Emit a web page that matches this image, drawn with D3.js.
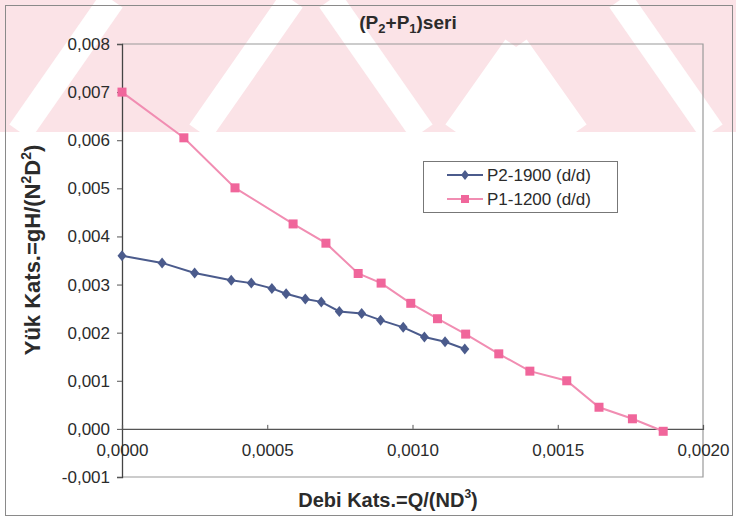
<!DOCTYPE html>
<html>
<head>
<meta charset="utf-8">
<script src="https://cdn.jsdelivr.net/npm/d3@7"></script>
<style>
  html, body { margin: 0; padding: 0; background: #fff; }
  svg { display: block; font-family: "Liberation Sans", Arial, sans-serif; }
</style>
</head>
<body>
<svg id="chart" width="736" height="520"></svg>
<script>
// Flow coefficient Q/(ND^3) and head coefficient gH/(N^2 D^2)
const p2Flow = [0, 0.000138, 0.000250, 0.000376, 0.000445, 0.000516, 0.000565, 0.000631,
                0.000686, 0.000748, 0.000825, 0.000890, 0.000968, 0.001041, 0.001112, 0.001180];
const p2Head = [0.00360, 0.00345, 0.00324, 0.00309, 0.00303, 0.00292, 0.00281, 0.00270,
                0.00264, 0.00244, 0.00240, 0.00226, 0.00211, 0.00191, 0.00181, 0.00166];

const p1Flow = [0, 0.000213, 0.000389, 0.000589, 0.000702, 0.000813, 0.000892, 0.000994,
                0.001086, 0.001183, 0.001297, 0.001404, 0.001531, 0.001642, 0.001757, 0.001863];
const p1Head = [0.00700, 0.00605, 0.00501, 0.00426, 0.00386, 0.00323, 0.00303, 0.00261,
                0.00229, 0.00197, 0.00156, 0.00120, 0.00100, 0.00045, 0.00021, -0.00005];

const seriesNames = ["P2-1900 (d/d)", "P1-1200 (d/d)"];
const xTicks = [0, 0.0005, 0.0010, 0.0015, 0.0020];
const yTicks = [-0.001, 0, 0.001, 0.002, 0.003, 0.004, 0.005, 0.006, 0.007, 0.008];

const svg = d3.select("#chart");
const W = 736, H = 520;

// faint diagonal band pattern along the top of the page
const band = svg.append("g");
band.append("rect").attr("x", 0).attr("y", 0).attr("width", W).attr("height", 132)
  .attr("fill", "#fbe3e7");
const cp = svg.append("clipPath").attr("id", "bandclip");
cp.append("rect").attr("x", 0).attr("y", 0).attr("width", W).attr("height", 132);
const stripes = [
  [20, 132, 112, 0], [200, 132, 292, 0], [330, 0, 422, 132],
  [456, 132, 516, 47], [516, 47, 576, 132], [620, 0, 712, 132]
];
band.append("g").attr("clip-path", "url(#bandclip)")
  .selectAll("line").data(stripes).join("line")
  .attr("x1", d => d[0]).attr("y1", d => d[1]).attr("x2", d => d[2]).attr("y2", d => d[3])
  .attr("stroke", "#fff").attr("stroke-width", 26);
band.append("path").attr("d", "M456,132 L516,47 L576,132 Z").attr("fill", "#fff");

// outer frame
svg.append("rect").attr("x", 5.5).attr("y", 5.5).attr("width", 727).attr("height", 510)
  .attr("fill", "none").attr("stroke", "#8a8a8a").attr("stroke-width", 1);

const x = d3.scaleLinear().domain([0, 0.002]).range([122, 703]);
const y = d3.scaleLinear().domain([-0.001, 0.008]).range([477, 44]);
const fmt = (d, n) => d.toFixed(n).replace(".", ",");

// plot area frame (top, right, bottom)
svg.append("path")
  .attr("d", `M${x(0)},${y(0.008)}H${x(0.002)}V${y(-0.001)}H${x(0)}`)
  .attr("fill", "none").attr("stroke", "#9a9a9a").attr("stroke-width", 1.2);

// y axis
const yAxis = svg.append("g").attr("transform", `translate(${x(0)},0)`)
  .call(d3.axisLeft(y).tickValues(yTicks).tickSize(5).tickPadding(7).tickFormat(d => fmt(d, 3)));
yAxis.select(".domain").attr("stroke", "#444").attr("stroke-width", 1.3);
yAxis.selectAll(".tick line").attr("stroke", "#555");
yAxis.selectAll("text").attr("font-size", 17).attr("fill", "#2b2b2b")
  .attr("font-family", "Liberation Sans, Arial, sans-serif");

// x axis crossing at zero
const xAxis = svg.append("g").attr("transform", `translate(0,${y(0)})`)
  .call(d3.axisBottom(x).tickValues(xTicks).tickSize(-4).tickPadding(12).tickFormat(d => fmt(d, 4)));
xAxis.select(".domain").attr("stroke", "#555").attr("stroke-width", 1.2);
xAxis.selectAll(".tick line").attr("stroke", "#555");
xAxis.selectAll("text").attr("font-size", 17).attr("fill", "#2b2b2b")
  .attr("font-family", "Liberation Sans, Arial, sans-serif")
  .attr("dy", "0.9em");

// series
const blue = "#4b5b8c", pinkLine = "#f18db2", pinkMark = "#f0669b";
const p2 = p2Flow.map((v, i) => [v, p2Head[i]]);
const p1 = p1Flow.map((v, i) => [v, p1Head[i]]);
const line = d3.line().x(d => x(d[0])).y(d => y(d[1]));

svg.append("path").datum(p1).attr("d", line).attr("fill", "none")
  .attr("stroke", pinkLine).attr("stroke-width", 2);
svg.append("path").datum(p2).attr("d", line).attr("fill", "none")
  .attr("stroke", blue).attr("stroke-width", 2);

svg.append("g").selectAll("path").data(p2).join("path")
  .attr("d", "M0,-5.5L4.5,0L0,5.5L-4.5,0Z")
  .attr("transform", d => `translate(${x(d[0])},${y(d[1])})`)
  .attr("fill", blue);
svg.append("g").selectAll("rect").data(p1).join("rect")
  .attr("x", d => x(d[0]) - 4.5).attr("y", d => y(d[1]) - 4.5)
  .attr("width", 9).attr("height", 9).attr("fill", pinkMark);

// legend
const lg = svg.append("g");
lg.append("rect").attr("x", 423.5).attr("y", 161.5).attr("width", 194).attr("height", 51)
  .attr("fill", "#fff").attr("stroke", "#777").attr("stroke-width", 1);
const rows = [
  { name: seriesNames[0], col: blue, lcol: blue, shape: "diamond", cy: 175 },
  { name: seriesNames[1], col: pinkMark, lcol: pinkLine, shape: "square", cy: 199 }
];
rows.forEach(r => {
  lg.append("line").attr("x1", 447).attr("x2", 483).attr("y1", r.cy).attr("y2", r.cy)
    .attr("stroke", r.lcol).attr("stroke-width", 2);
  if (r.shape === "diamond") {
    lg.append("path").attr("d", "M0,-5L4,0L0,5L-4,0Z")
      .attr("transform", `translate(465,${r.cy})`).attr("fill", r.col);
  } else {
    lg.append("rect").attr("x", 461).attr("y", r.cy - 4).attr("width", 8).attr("height", 8)
      .attr("fill", r.col);
  }
  lg.append("text").attr("x", 487).attr("y", r.cy).attr("dy", "0.35em")
    .attr("font-size", 17).attr("fill", "#2b2b2b").text(r.name);
});

// title
const title = svg.append("text").attr("x", 408).attr("y", 29).attr("text-anchor", "middle")
  .attr("font-size", 19).attr("font-weight", "bold").attr("fill", "#2b2b2b");
title.append("tspan").text("(P");
title.append("tspan").attr("font-size", 13).attr("dy", 4).text("2");
title.append("tspan").attr("dy", -4).text("+P");
title.append("tspan").attr("font-size", 13).attr("dy", 4).text("1");
title.append("tspan").attr("dy", -4).text(")seri");

// x axis title
const xt = svg.append("text").attr("x", 388).attr("y", 507).attr("text-anchor", "middle")
  .attr("font-size", 20).attr("font-weight", "bold").attr("fill", "#2b2b2b");
xt.append("tspan").text("Debi Kats.=Q/(ND");
xt.append("tspan").attr("font-size", 12).attr("dy", -9).text("3");
xt.append("tspan").attr("dy", 9).text(")");

// y axis title
const yt = svg.append("text").attr("transform", "translate(40,250) rotate(-90)")
  .attr("text-anchor", "middle")
  .attr("font-size", 22).attr("font-weight", "bold").attr("fill", "#2b2b2b");
yt.append("tspan").text("Yük Kats.=gH/(N");
yt.append("tspan").attr("font-size", 14).attr("dy", -9).text("2");
yt.append("tspan").attr("dy", 9).text("D");
yt.append("tspan").attr("font-size", 14).attr("dy", -9).text("2");
yt.append("tspan").attr("dy", 9).text(")");
</script>
</body>
</html>
